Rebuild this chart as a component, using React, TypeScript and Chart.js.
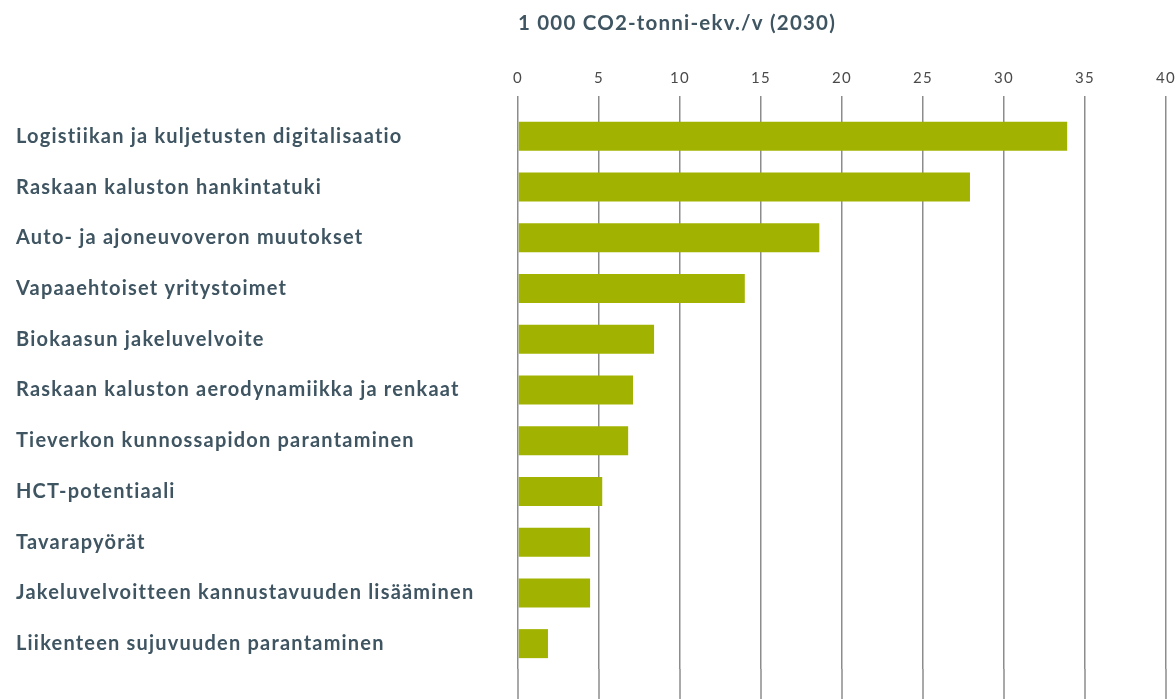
import React, { useEffect, useRef } from "react";
import { Chart, registerables } from "chart.js";

Chart.register(...registerables);

const categories = [
  "Logistiikan ja kuljetusten digitalisaatio",
  "Raskaan kaluston hankintatuki",
  "Auto- ja ajoneuvoveron muutokset",
  "Vapaaehtoiset yritystoimet",
  "Biokaasun jakeluvelvoite",
  "Raskaan kaluston aerodynamiikka ja renkaat",
  "Tieverkon kunnossapidon parantaminen",
  "HCT-potentiaali",
  "Tavarapyörät",
  "Jakeluvelvoitteen kannustavuuden lisääminen",
  "Liikenteen sujuvuuden parantaminen",
];

const values = [33.9, 27.9, 18.6, 14.0, 8.4, 7.1, 6.8, 5.2, 4.45, 4.45, 1.85];

const axisTitle = "1 000 CO2-tonni-ekv./v (2030)";
const xMin = 0;
const xMax = 40;
const xStep = 5;

const GRID_COLOR = "#8c8c8c";
const TEXT_COLOR = "#3f5562";
const BAR_COLOR = "#a1b300";

const gridExtend = {
  id: "gridExtend",
  beforeDraw(chart: any) {
    chart.ctx.letterSpacing = "1.2px";
  },
  beforeDatasetsDraw(chart: any) {
    const x = chart.scales.x;
    const { ctx, chartArea } = chart;
    ctx.save();
    ctx.strokeStyle = GRID_COLOR;
    ctx.lineWidth = 1.5;
    x.ticks.forEach((t: any) => {
      const px = x.getPixelForValue(t.value);
      ctx.beginPath();
      ctx.moveTo(px, chartArea.bottom);
      ctx.lineTo(px, chart.height);
      ctx.stroke();
    });
    ctx.restore();
  },
};

export default function App() {
  const ref = useRef<HTMLCanvasElement>(null);

  useEffect(() => {
    if (!ref.current) return;
    const chart = new Chart(ref.current, {
      type: "bar",
      data: {
        labels: categories,
        datasets: [
          {
            data: values,
            backgroundColor: BAR_COLOR,
            borderWidth: 0,
            barPercentage: 0.572,
            categoryPercentage: 1,
          },
        ],
      },
      options: {
        indexAxis: "y",
        responsive: false,
        animation: false,
        layout: { padding: { left: 16, right: 0, top: 0, bottom: 30 } },
        plugins: {
          legend: { display: false },
          tooltip: { enabled: false },
        },
        scales: {
          x: {
            position: "top",
            min: xMin,
            max: xMax,
            ticks: {
              stepSize: xStep,
              color: "#4a4a4a",
              padding: 9,
              font: { family: "Lato", size: 15, weight: "normal" },
            },
            grid: {
              color: GRID_COLOR,
              lineWidth: 1.5,
              drawTicks: true,
              tickLength: 15,
              tickColor: GRID_COLOR,
            },
            border: { display: false },
            title: {
              display: true,
              text: axisTitle,
              align: "start",
              color: TEXT_COLOR,
              padding: { top: 11, bottom: 0 },
              font: { family: "Lato", size: 20.5, weight: "bold" },
            },
            afterFit(scale: any) {
              scale.height = 111;
              scale.paddingRight = 10;
            },
          },
          y: {
            grid: { display: false },
            border: { display: false },
            ticks: {
              crossAlign: "far",
              color: TEXT_COLOR,
              font: { family: "Lato", size: 20, weight: "bold" },
            },
            afterFit(scale: any) {
              scale.width = 502;
            },
          },
        },
      },
      plugins: [gridExtend],
    });
    return () => chart.destroy();
  }, []);

  return (
    <div
      style={{
        position: "fixed",
        left: 0,
        top: 0,
        width: 1176,
        height: 699,
        background: "#fff",
      }}
    >
      <canvas ref={ref} width={1176} height={699} style={{ width: 1176, height: 699 }} />
    </div>
  );
}
